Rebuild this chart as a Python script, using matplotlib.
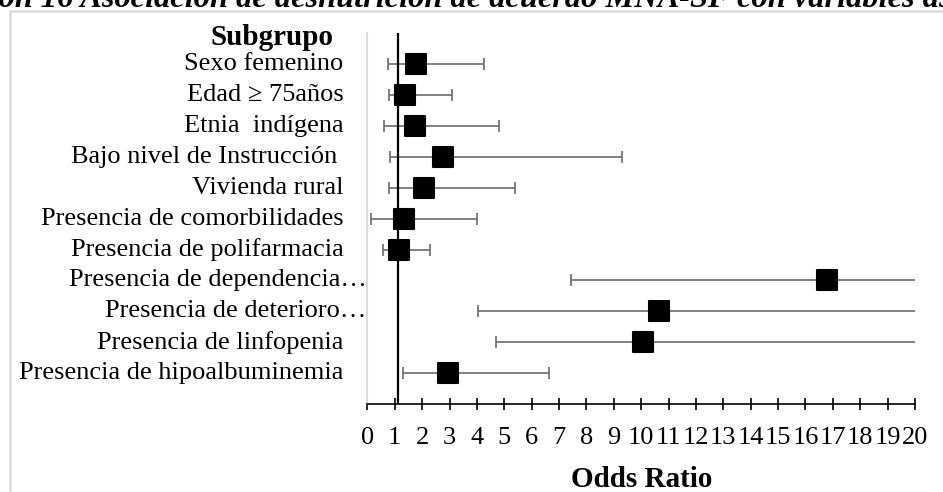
import numpy as np
import matplotlib
matplotlib.use('Agg')
import matplotlib.pyplot as plt
import matplotlib.transforms as mtrans
from matplotlib.markers import MarkerStyle
from matplotlib.patches import Rectangle

# Datos del forest plot (OR e IC 95%)
header = 'Subgrupo'
labels = ['Sexo femenino', 'Edad ≥ 75años', 'Etnia  indígena', 'Bajo nivel de Instrucción ',
          'Vivienda rural', 'Presencia de comorbilidades', 'Presencia de polifarmacia',
          'Presencia de dependencia…', 'Presencia de deterioro…', 'Presencia de linfopenia',
          'Presencia de hipoalbuminemia']
odds = [1.79, 1.38, 1.73, 2.75, 2.08, 1.35, 1.14, 16.78, 10.66, 10.07, 2.93]
lower = [0.74, 0.78, 0.61, 0.81, 0.79, 0.14, 0.58, 7.44, 4.05, 4.70, 1.30]
upper = [4.25, 3.09, 4.82, 9.29, 5.40, 4.01, 2.29, 37.8, 28.1, 21.6, 6.65]
ref_line = 1.1
xticks = list(range(0, 21))
title = 'Ilustración 16 Asociación de desnutrición de acuerdo MNA-SF con variables asociadas'

plt.rcParams['font.family'] = ['Liberation Serif', 'DejaVu Serif']
fs = 19

W, H = 943, 492
fig = plt.figure(figsize=(W / 100, H / 100), dpi=100)
ax = fig.add_axes([367.4 / W, (H - 404.3) / H, (915 - 367.4) / W, (404.3 - 32.8) / H])

odds_a = np.array(odds)
ypos = np.arange(len(labels), 0, -1)
xerr = [odds_a - np.array(lower), np.array(upper) - odds_a]

ax.errorbar(odds_a, ypos, xerr=xerr, fmt='none', ecolor='#6b6b6b', elinewidth=1.2,
            capsize=4, capthick=1.2, zorder=2)
ax.axvline(ref_line, color='black', lw=1.6, zorder=2.5)
ax.plot(odds_a, ypos, linestyle='none', marker=MarkerStyle('s', joinstyle='round'),
        ms=15, mfc='black', mec='black', mew=1.5, zorder=3)

ax.set_xlim(0, 20)
ax.set_ylim(0, len(labels) + 1)
ax.set_xticks(xticks)
ax.set_xticklabels([str(t) for t in xticks], fontsize=fs)
ax.tick_params(axis='x', direction='inout', length=9, width=1.2, pad=12)
ax.set_yticks([])
ax.set_xlabel('Odds Ratio', fontsize=21, fontweight='bold', labelpad=12)

for s in ['top', 'right']:
    ax.spines[s].set_visible(False)
ax.spines['left'].set_color('#d9d9d9')
ax.spines['left'].set_linewidth(1.5)
ax.spines['bottom'].set_linewidth(1.2)

# etiquetas de las filas
blend = mtrans.blended_transform_factory(ax.transAxes, ax.transData)
for lab, y in zip(labels, ypos):
    dx = -1 / 100 if lab.endswith('…') else -24 / 100
    tr = blend + mtrans.ScaledTranslation(dx, 0, fig.dpi_scale_trans)
    ax.text(0, y, lab, transform=tr, ha='right', va='center', fontsize=fs)
tr = blend + mtrans.ScaledTranslation(-34 / 100, -5 / 100, fig.dpi_scale_trans)
ax.text(0, len(labels) + 1, header, transform=tr, ha='right', va='center',
        fontsize=21, fontweight='bold')

# marco y título recortado
fig.patches.append(Rectangle((10 / W, -0.2), 1.5, 1.2 - 11 / H, transform=fig.transFigure,
                             fill=False, ec='#d9d9d9', lw=1.8))
fig.text(0.497, 1 - 7 / H, title, ha='center', va='baseline', fontsize=23.3,
         fontweight='bold', fontstyle='italic')

fig.savefig('out.png', dpi=100)
